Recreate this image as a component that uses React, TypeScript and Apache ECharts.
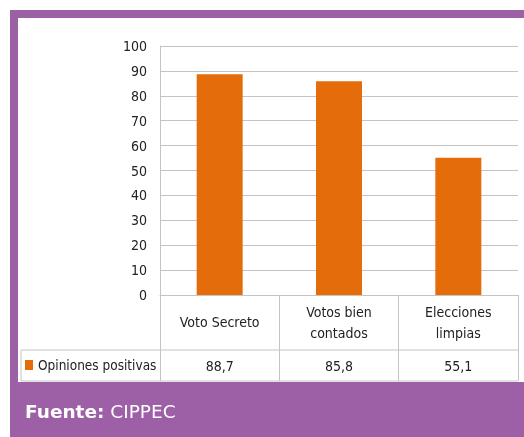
import React, { useEffect, useRef } from "react";
import * as echarts from "echarts";

const categories = ["Voto Secreto", "Votos bien\ncontados", "Elecciones\nlimpias"];
const values = [88.7, 85.8, 55.1];
const seriesName = "Opiniones positivas";
const yTicks = { min: 0, max: 100, interval: 10 };
const sourceBold = "Fuente:";
const sourceText = " CIPPEC";

const W = 524;
const H = 437;
const GRID_LEFT = 160;
const GRID_RIGHT = 6;
const GRID_TOP = 46;
const GRID_BOTTOM = 142;
const AXIS_Y = H - GRID_BOTTOM;
const ROW1_Y = 350;
const ROW2_Y = 381;
const LEGEND_X = 21;
const PURPLE = "#9d5fa6";
const LINE = "#c4c4c4";
const FONT = "'Liberation Sans Narrow', 'DejaVu Sans Condensed', sans-serif";

export default function App() {
  const ref = useRef<HTMLDivElement>(null);
  useEffect(() => {
    if (!ref.current) return;
    const chart = echarts.init(ref.current, undefined, { renderer: "svg" });
    const right = W - GRID_RIGHT;
    chart.setOption({
      animation: false,
      textStyle: { fontFamily: FONT },
      graphic: [
        { type: "rect", z: -10, shape: { x: 10, y: 10, width: W - 10, height: H - 10 }, style: { fill: PURPLE } },
        { type: "rect", z: -9, shape: { x: 18, y: 18, width: W - 18, height: ROW2_Y + 1 - 18 }, style: { fill: "#ffffff" } },
        { type: "line", shape: { x1: LEGEND_X, y1: ROW1_Y, x2: right, y2: ROW1_Y }, style: { stroke: LINE, lineWidth: 1 } },
        { type: "line", shape: { x1: LEGEND_X, y1: ROW2_Y, x2: right, y2: ROW2_Y }, style: { stroke: LINE, lineWidth: 1 } },
        { type: "line", shape: { x1: LEGEND_X, y1: ROW1_Y, x2: LEGEND_X, y2: ROW2_Y }, style: { stroke: LINE, lineWidth: 1 } },
        {
          type: "text",
          x: 25,
          y: 411,
          style: {
            text: `{b|${sourceBold}}{r|${sourceText}}`,
            verticalAlign: "middle",
            rich: {
              b: { fontFamily: "'DejaVu Sans', sans-serif", fontWeight: "bold", fontSize: 18.5, fill: "#ffffff" },
              r: { fontFamily: "'DejaVu Sans', sans-serif", fontSize: 18.5, fill: "#ffffff" },
            },
          },
        },
      ],
      legend: {
        left: 25,
        top: 358,
        icon: "rect",
        itemWidth: 8,
        itemHeight: 10,
        itemGap: 4,
        padding: 0,
        textStyle: { fontSize: 13.5, color: "#222", fontFamily: FONT },
        data: [seriesName],
      },
      grid: { left: GRID_LEFT, right: GRID_RIGHT, top: GRID_TOP, bottom: GRID_BOTTOM, containLabel: false },
      xAxis: [
        {
          type: "category",
          data: categories,
          position: "bottom",
          axisLine: { show: true, lineStyle: { color: LINE } },
          axisTick: { show: true, length: ROW2_Y - AXIS_Y, lineStyle: { color: LINE } },
          axisLabel: { margin: 27, verticalAlign: "middle", fontSize: 14, color: "#222", lineHeight: 21, fontFamily: FONT },
        },
        {
          type: "category",
          data: values.map((v) => v.toFixed(1).replace(".", ",")),
          position: "bottom",
          axisLine: { show: false },
          axisTick: { show: false },
          axisLabel: { margin: 71, verticalAlign: "middle", fontSize: 14, color: "#222", fontFamily: FONT },
        },
      ],
      yAxis: {
        type: "value",
        min: yTicks.min,
        max: yTicks.max,
        interval: yTicks.interval,
        axisLine: { show: true, lineStyle: { color: LINE } },
        axisTick: { show: false },
        axisLabel: { margin: 13, fontSize: 14, color: "#222", fontFamily: FONT },
        splitLine: { lineStyle: { color: LINE } },
      },
      series: [
        {
          name: seriesName,
          type: "bar",
          data: values,
          barWidth: 46,
          itemStyle: { color: "#e46c0a" },
        },
      ],
    });
    return () => chart.dispose();
  }, []);
  return <div ref={ref} style={{ position: "fixed", left: 0, top: 0, width: W, height: H }} />;
}
